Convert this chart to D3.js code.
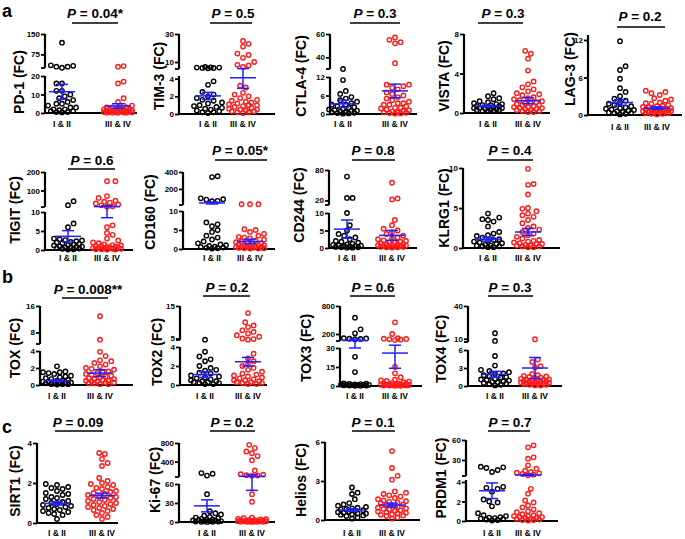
<!DOCTYPE html>
<html><head><meta charset="utf-8">
<script src="https://cdn.jsdelivr.net/npm/d3@7"></script>
<style>
body{margin:0;background:#fff}
svg{display:block}
text{font-family:"Liberation Sans",Arial,sans-serif;font-weight:bold;fill:#000}
</style>
</head><body>
<svg id="chart" width="685" height="539"></svg>
<script>
// ---------------- DATA ----------------
const categories = ["I & II", "III & IV"];
const markers = ["PD-1","TIM-3","CTLA-4","VISTA","LAG-3","TIGIT","CD160","CD244","KLRG1","TOX","TOX2","TOX3","TOX4","SIRT1","Ki-67","Helios","PRDM1"];
const pValues = ["0.04*","0.5","0.3","0.3","0.2","0.6","0.05*","0.8","0.4","0.008**","0.2","0.6","0.3","0.09","0.2","0.1","0.7"];
const panelLetters = ["a","b","c"];

const meanEarly = [11.5, 2.05, 3.3, 0.7, 2.0, 3.6, 35, 5.4, 1.1, 0.5, 1.1, 60, 1.95, 0.98, 25.5, 0.77, 3.1];
const semEarly  = [4.0, 0.4, 1.2, 0.1, 0.45, 1.5, 12, 2.6, 0.25, 0.1, 0.3, 30, 0.5, 0.08, 9.5, 0.1, 0.8];
const meanLate  = [3.8, 4.1, 7.5, 1.25, 1.1, 13, 2.0, 3.6, 2.0, 1.4, 2.45, 26, 3.0, 1.37, 85, 1.15, 7.5];
const semLate   = [1.2, 1.2, 2.2, 0.3, 0.2, 4.5, 0.6, 1.4, 0.45, 0.4, 0.45, 12, 1.75, 0.12, 35, 0.15, 1.0];

const pd1Early = [118,35,33,30,30,26,16,16,12,12,10,9,8,7,6,5,5,4,3,3,2,2,1.5,1,1,0.5,0.5,0.3];
const pd1Late  = [32,30,17,16,8,6,4,4,3,3,3,2.5,2.5,2,2,2,1.5,1.5,1.5,1,1,1,1,0.8,0.7,0.5,0.5,0.5,0.3,0.3,0.2,0.2,0.1,0.1];
const tim3Early = [6.5,6.2,6,6,5.8,5.7,5.5,3.7,3.3,2.5,2.2,2,1.8,1.6,1.5,1.3,1.2,1,0.9,0.8,0.7,0.6,0.5,0.4,0.3,0.2,0.2,0.1];
const tim3Late  = [25,23,21,16,15,13,10,8,7.5,6.5,3.2,3,2.4,2.2,2,1.8,1.6,1.5,1.4,1.3,1.2,1.1,1,1,0.9,0.8,0.7,0.6,0.5,0.5,0.4,0.3,0.3,0.2,0.2,0.1];
const ctla4Early = [30,11,7.5,6.5,5.5,5,4.5,4,3.5,3,3,2.5,2.2,2,1.8,1.5,1.3,1.1,1,0.8,0.6,0.5,0.4,0.3,0.2,0.1];
const ctla4Late  = [57,55,53,52,35,9.5,9.5,9,8.5,8,7,6.5,6,5.5,5,4.5,4,3.5,3.5,3,3,2.5,2,2,1.8,1.5,1.2,1,0.8,0.6,0.5,0.4,0.3,0.2,0.1];
const vistaEarly = [2,1.7,1.5,1.4,1.2,1.1,1,0.9,0.9,0.8,0.8,0.7,0.7,0.6,0.6,0.5,0.5,0.5,0.4,0.4,0.3,0.3,0.3,0.2,0.2,0.2];
const vistaLate  = [6.3,6,5.5,4.3,3.2,2.9,2.6,2.4,2.2,2,1.9,1.8,1.6,1.5,1.4,1.3,1.2,1.1,1,1,0.9,0.8,0.8,0.7,0.6,0.6,0.5,0.5,0.4,0.4,0.3,0.3,0.2,0.2,0.1,0.1];
const lag3Early = [11.8,7.8,7.2,5.8,4.3,3.7,3,2.6,2.3,2,1.8,1.6,1.4,1.2,1.1,1,0.9,0.8,0.7,0.6,0.5,0.4,0.3,0.3,0.2,0.1];
const lag3Late  = [3.9,3.7,3.5,3.2,2.7,2.5,2.3,2,1.9,1.8,1.6,1.5,1.4,1.3,1.2,1.1,1,1,0.9,0.9,0.8,0.8,0.7,0.7,0.6,0.6,0.5,0.5,0.4,0.4,0.3,0.3,0.2,0.2,0.1];
const tigitEarly = [42,21,7,6,3,2.8,2.6,2.5,2.3,2.1,2,1.8,1.6,1.5,1.3,1.2,1,0.9,0.8,0.7,0.6,0.5,0.4,0.3,0.2,0.1];
const tigitLate  = [150,150,70,60,45,40,35,30,25,20,15,12,6.5,6,4.5,4,3,2.5,2,1.8,1.5,1.3,1.2,1,1,0.9,0.8,0.7,0.6,0.5,0.5,0.4,0.3,0.3,0.2,0.2,0.1,0.1];
const cd160Early = [350,340,90,80,75,60,55,7,6.5,6,5,4.5,3.5,3,2.5,2,1.5,1.2,1,0.8,0.6,0.5,0.4,0.3,0.2,0.1];
const cd160Late  = [20,20,20,5.2,5,4.5,4,3.5,3.2,3,2.8,2.5,2.2,2,1.8,1.6,1.5,1.4,1.2,1.1,1,0.9,0.8,0.7,0.6,0.5,0.5,0.4,0.3,0.3,0.2,0.2,0.1,0.1];
const cd244Early = [67,25,25,10,6.5,5,4,3.5,3,2.5,2,1.8,1.5,1.2,1,0.9,0.8,0.7,0.6,0.5,0.4,0.3,0.2,0.2,0.1,0.1];
const cd244Late  = [55,24,22,8,6.5,5.5,5,4.5,4,3.5,3,2.8,2.5,2.2,2,1.8,1.6,1.5,1.3,1.2,1.1,1,0.9,0.8,0.7,0.6,0.5,0.4,0.4,0.3,0.3,0.2,0.2,0.1];
const klrg1Early = [4.3,3.8,3.6,3.5,3.3,2.7,2,1.8,1.6,1.5,1.3,1.1,1,0.9,0.8,0.7,0.6,0.5,0.4,0.3,0.3,0.2,0.2,0.1,0.1];
const klrg1Late  = [9.9,8,7.9,6.7,5,4.9,4.6,4.3,4.1,3.9,3.5,3.1,2.7,2.5,2.3,2,1.8,1.6,1.4,1.2,1,0.9,0.8,0.7,0.6,0.5,0.5,0.4,0.3,0.3,0.2,0.2,0.1,0.1];
const toxEarly = [2.2,1.6,1.5,1.5,1.4,1.3,1.1,1,0.9,0.8,0.7,0.6,0.5,0.5,0.4,0.4,0.3,0.3,0.2,0.2,0.2,0.1,0.1,0.1,0.05];
const toxLate  = [12.9,5.8,3.9,3.4,2.9,2.8,2.6,2.4,2.2,2,1.9,1.8,1.6,1.5,1.4,1.3,1.2,1.1,1,0.9,0.8,0.7,0.7,0.6,0.5,0.5,0.4,0.4,0.3,0.3,0.2,0.2,0.1,0.1];
const tox2Early = [4.6,3.5,3,2.7,2.5,2,1.8,1.6,1.5,1.3,1.2,1,0.9,0.8,0.7,0.6,0.5,0.4,0.4,0.3,0.3,0.2,0.2,0.1,0.1];
const tox2Late  = [12.8,10,9,8.5,7.5,7,6.5,6,5.5,5,4.8,4.6,3.3,2.8,2.5,2.2,2,1.8,1.6,1.4,1.2,1.1,1,0.9,0.8,0.7,0.6,0.5,0.5,0.4,0.3,0.3,0.2,0.2,0.1,0.1];
const tox3Early = [550,300,215,110,105,100,95,90,23,11,2,1.8,1.6,1.5,1.3,1.2,1,0.9,0.8,0.7,0.6,0.5,0.4,0.3,0.2,0.1];
const tox3Late  = [450,200,110,100,95,85,80,70,15,10,7,5,4.5,4,3.5,3,2.5,2,2,1.8,1.5,1.3,1.2,1,0.9,0.8,0.7,0.6,0.5,0.4,0.3,0.3,0.2,0.1];
const tox4Early = [15,8,5,3.4,2.7,2.5,2.3,2.1,2,1.8,1.6,1.5,1.4,1.2,1.1,1,0.9,0.8,0.7,0.6,0.5,0.4,0.3,0.2,0.1];
const tox4Late  = [9.5,4.4,4,3.3,3.1,2,1.8,1.7,1.6,1.5,1.4,1.3,1.2,1.1,1,1,0.9,0.9,0.8,0.8,0.7,0.7,0.6,0.6,0.5,0.5,0.4,0.4,0.3,0.3,0.2,0.2,0.1,0.1];
const sirt1Early = [1.95,1.9,1.8,1.75,1.7,1.6,1.5,1.45,1.4,1.3,1.25,1.2,1.1,1.05,1,0.95,0.9,0.85,0.8,0.75,0.7,0.65,0.6,0.55,0.5,0.45,0.4,0.2];
const sirt1Late  = [3.5,3.45,3.2,3,2.85,2.25,2.1,2,1.95,1.9,1.8,1.75,1.7,1.6,1.55,1.5,1.45,1.4,1.35,1.3,1.25,1.2,1.15,1.1,1.05,1,0.95,0.9,0.85,0.8,0.75,0.7,0.65,0.6,0.5,0.4,0.3,0.2];
const ki67Early = [155,140,100,44,17,14,12,10,8,7,6,5,4,3.5,3,2.5,2,1.5,1.2,1,0.8,0.6,0.4,0.2,0.1];
const ki67Late  = [760,690,620,580,520,430,210,130,120,110,100,95,44,32,7,6,5,4.5,4,3.5,3,2.8,2.5,2.2,2,1.8,1.5,1.3,1.1,1,0.8,0.6,0.5,0.4,0.3,0.2,0.1];
const heliosEarly = [2.5,2.1,2,1.6,1.3,1.2,1.1,1,0.95,0.9,0.85,0.8,0.75,0.7,0.65,0.6,0.55,0.5,0.5,0.45,0.4,0.35,0.3,0.2,0.1];
const heliosLate  = [5.3,4,3.4,3.1,2.2,2.1,2,1.9,1.8,1.7,1.6,1.5,1.45,1.4,1.35,1.3,1.2,1.15,1.1,1,0.95,0.9,0.85,0.8,0.75,0.7,0.65,0.6,0.55,0.5,0.45,0.4,0.35,0.3,0.2,0.1];
const prdm1Early = [20,19,18,15,12,3.5,3.4,3.3,3,2.2,2,1.9,1.5,0.8,0.6,0.5,0.4,0.35,0.3,0.25,0.2,0.15,0.1,0.05];
const prdm1Late  = [52,49,34,32,22,17,14,12,11,10,9,8,7,3.3,2.8,2.1,1.9,1.6,1.4,1.2,1,0.9,0.8,0.7,0.6,0.5,0.5,0.4,0.4,0.3,0.3,0.2,0.2,0.15,0.1,0.1,0.05];

const valuesEarly = [pd1Early,tim3Early,ctla4Early,vistaEarly,lag3Early,tigitEarly,cd160Early,cd244Early,klrg1Early,toxEarly,tox2Early,tox3Early,tox4Early,sirt1Early,ki67Early,heliosEarly,prdm1Early];
const valuesLate  = [pd1Late,tim3Late,ctla4Late,vistaLate,lag3Late,tigitLate,cd160Late,cd244Late,klrg1Late,toxLate,tox2Late,tox3Late,tox4Late,sirt1Late,ki67Late,heliosLate,prdm1Late];

const ticksPD1=[0,10,20,75,150], ticksTIM3=[0,2,4,10,30], ticksCTLA4=[0,6,12,40,60], ticksVISTA=[0,4,8], ticksLAG3=[0,6,12];
const ticksTIGIT=[0,5,10,100,200], ticksCD160=[0,5,10,200,400], ticksCD244=[0,5,10,20,80], ticksKLRG1=[0,5,10];
const ticksTOX=[0,2,4,8,16], ticksTOX2=[0,2,4,5,15], ticksTOX3=[0,15,30,200,800], ticksTOX4=[0,3,6,10,40];
const ticksSIRT1=[0,2,4], ticksKI67=[0,30,60,400,800], ticksHELIOS=[0,3,6], ticksPRDM1=[0,2,4,30,60];
const tickSets=[ticksPD1,ticksTIM3,ticksCTLA4,ticksVISTA,ticksLAG3,ticksTIGIT,ticksCD160,ticksCD244,ticksKLRG1,ticksTOX,ticksTOX2,ticksTOX3,ticksTOX4,ticksSIRT1,ticksKI67,ticksHELIOS,ticksPRDM1];

// ---------------- LAYOUT (positions / axis breaks) ----------------
const layout = [
 {ax:45, xe:137, g:[62,118], segs:[[[0,20],[113,76]],[[25,150],[68,34]]], ylx:19, yly:82, tx:95, ty:18, lx:[72,118], ly:23, xly:127},
 {ax:179, xe:275, g:[208,243], segs:[[[0,4.3],[114,76]],[[5,30],[69,34]]], ylx:159, yly:76, tx:233, ty:18, lx:[210,252], ly:23, xly:127},
 {ax:330, xe:417, g:[343,395], segs:[[[0,12],[114,77]],[[30,60],[69,34]]], ylx:301, yly:76, tx:375, ty:18, lx:[350,400], ly:23, xly:127},
 {ax:464, xe:550, g:[488,528], segs:[[[0,8],[113,34]]], ylx:444, yly:76, tx:503, ty:18, lx:[478,523], ly:23, xly:127},
 {ax:588, xe:682, g:[620,657], segs:[[[0,12.8],[115,35]]], ylx:570, yly:69, tx:640, ty:21, lx:[617,665], ly:27, xly:130},
 {ax:45, xe:133, g:[68,107], segs:[[[0,10],[250,212]],[[11,200],[207,172]]], ylx:15, yly:210, tx:92, ty:165, lx:[68,115], ly:169, xly:261},
 {ax:183, xe:275, g:[212,250], segs:[[[0,10],[249,211]],[[11,400],[205,172]]], ylx:150, yly:212, tx:240, ty:155, lx:[215,267], ly:160, xly:261},
 {ax:329, xe:417, g:[347,392], segs:[[[0,10],[248,213]],[[11,80],[205,170]]], ylx:299, yly:205, tx:373, ty:155, lx:[352,395], ly:160, xly:261},
 {ax:463, xe:560, g:[488,528], segs:[[[0,10],[248,168]]], ylx:444, yly:208, tx:510, ty:155, lx:[487,533], ly:160, xly:261},
 {ax:40, xe:133, g:[57,100], segs:[[[0,4],[385,351]],[[4.5,16],[344,306]]], ylx:15, yly:348, tx:88, ty:294, lx:[62,108], ly:298, xly:399},
 {ax:180, xe:267, g:[205,248], segs:[[[0,4],[385,347]],[[4.5,15],[340,306]]], ylx:157, yly:352, tx:227, ty:292, lx:[203,250], ly:296, xly:399},
 {ax:340, xe:422, g:[355,395], segs:[[[0,30],[386,348]],[[50,800],[341,306]]], ylx:306, yly:348, tx:373, ty:292, lx:[350,395], ly:296, xly:399},
 {ax:468, xe:562, g:[495,535], segs:[[[0,6],[386,350]],[[7,40],[342,306]]], ylx:441, yly:349, tx:510, ty:292, lx:[488,533], ly:296, xly:399},
 {ax:37, xe:118, g:[57,102], segs:[[[0,4],[523,443]]], ylx:15, yly:481, tx:78, ty:427, lx:[55,103], ly:431, xly:536},
 {ax:179, xe:275, g:[207,252], segs:[[[0,60],[522,484]],[[70,800],[477,443]]], ylx:155, yly:480, tx:232, ty:427, lx:[210,255], ly:431, xly:536},
 {ax:325, xe:420, g:[352,392], segs:[[[0,6],[520,442]]], ylx:301, yly:480, tx:373, ty:427, lx:[352,395], ly:431, xly:536},
 {ax:466, xe:558, g:[492,528], segs:[[[0,4.2],[521,480]],[[6,60],[476,440]]], ylx:441, yly:478, tx:510, ty:427, lx:[488,530], ly:431, xly:536}
];
const letterPos = [[2,17],[2,283],[2,433]];

// ---------------- DRAW ----------------
const svg = d3.select("#chart");
const BLUE = "#1f1fff";
const groupColors = ["#000000", "#ff1a1a"];

panelLetters.forEach((l,i)=>{
  svg.append("text").attr("x",letterPos[i][0]).attr("y",letterPos[i][1])
    .style("font-size","18px").text(l);
});

function swarm(vals, yf, cx, r, maxHalf){
  const dmin = 2*r + 1.2;
  const pts = vals.map(v=>({v, y:yf(v)})).sort((a,b)=>b.y-a.y);
  const placed = [];
  const step = dmin*0.5;
  pts.forEach(p=>{
    let bestOff=0, bestScore=-1;
    for(let k=0;k<200;k++){
      const off = (k%2===1?1:-1)*Math.ceil(k/2)*step;
      if(Math.abs(off)>maxHalf) break;
      let md = Infinity;
      for(const q of placed){ const dd=Math.hypot(q.x-(cx+off), q.y-p.y); if(dd<md) md=dd; }
      if(md>=dmin){ bestOff=off; break; }
      if(md>bestScore){ bestScore=md; bestOff=off; }
    }
    p.x = cx + bestOff;
    placed.push(p);
  });
  return placed;
}

layout.forEach((L,i)=>{
  const g = svg.append("g");
  const segs = L.segs.map(s=>({d:s[0], r:s[1], sc:d3.scaleLinear().domain(s[0]).range(s[1])}));
  const yf = v=>{
    for(let k=0;k<segs.length;k++){
      const s = segs[k];
      if(v<s.d[0] && k>0){
        const p=segs[k-1];
        const t=(v-p.d[1])/(s.d[0]-p.d[1]);
        return p.r[1]+t*(s.r[0]-p.r[1]);
      }
      if(v<=s.d[1] || k===segs.length-1) return s.sc(v);
    }
  };
  const x = d3.scalePoint().domain(categories).range(L.g);
  const ticks = tickSets[i];

  segs.forEach((s,k)=>{
    const ax = d3.axisLeft(s.sc)
      .tickValues(ticks.filter(t=>t>=s.d[0]-1e-9 && t<=s.d[1]+1e-9))
      .tickSize(4).tickPadding(1).tickFormat(d3.format("d"));
    const ag = g.append("g").attr("transform",`translate(${L.ax},0)`).call(ax);
    ag.select(".domain").remove();
    ag.selectAll(".tick line").attr("stroke","#000").attr("stroke-width",1.8);
    ag.selectAll(".tick text").style("font-size","8px").style("font-family","'Liberation Sans',Arial,sans-serif").style("font-weight","bold").attr("fill","#000");
    g.append("line").attr("x1",L.ax).attr("x2",L.ax)
      .attr("y1", k===0 ? s.r[0]+1 : s.r[0]).attr("y2", s.r[1])
      .attr("stroke","#000").attr("stroke-width",2.2);
    if(k>0){
      g.append("line").attr("x1",L.ax-4).attr("x2",L.ax).attr("y1",s.r[0]).attr("y2",s.r[0])
        .attr("stroke","#000").attr("stroke-width",1.8);
    }
  });
  const yb = segs[0].r[0];
  g.append("line").attr("x1",L.ax-1).attr("x2",L.xe).attr("y1",yb).attr("y2",yb)
    .attr("stroke","#000").attr("stroke-width",2.2);

  [valuesEarly[i], valuesLate[i]].forEach((vals,gi)=>{
    const pts = swarm(vals, yf, x(categories[gi]), 2.2, 15);
    g.selectAll(null).data(pts).enter().append("circle")
      .attr("cx",d=>d.x).attr("cy",d=>d.y).attr("r",2.2)
      .attr("fill","none")
      .attr("stroke",groupColors[gi]).attr("stroke-width",1.4);
  });

  [[meanEarly[i],semEarly[i]],[meanLate[i],semLate[i]]].forEach(([m,s],gi)=>{
    const cx = x(categories[gi]);
    const eg = g.append("g").attr("stroke",BLUE).attr("stroke-width",1.5);
    eg.append("line").attr("x1",cx).attr("x2",cx).attr("y1",yf(m-s)).attr("y2",yf(m+s));
    eg.append("line").attr("x1",cx-13).attr("x2",cx+13).attr("y1",yf(m)).attr("y2",yf(m));
    [m-s,m+s].forEach(v=>eg.append("line").attr("x1",cx-6).attr("x2",cx+6).attr("y1",yf(v)).attr("y2",yf(v)));
  });

  categories.forEach(c=>{
    g.append("text").attr("x",x(c)).attr("y",L.xly).attr("text-anchor","middle")
      .style("font-size","8.5px").text(c);
  });
  g.append("text").attr("transform",`translate(${L.ylx},${L.yly}) rotate(-90)`)
    .attr("text-anchor","middle").attr("dy","0.35em").style("font-size","14px").text(markers[i]+" (FC)");
  const t = g.append("text").attr("x",L.tx).attr("y",L.ty).attr("text-anchor","middle").style("font-size","13.5px");
  t.append("tspan").style("font-style","italic").text("P");
  t.append("tspan").text(" = " + pValues[i]);
  g.append("line").attr("x1",L.lx[0]).attr("x2",L.lx[1]).attr("y1",L.ly).attr("y2",L.ly)
    .attr("stroke","#000").attr("stroke-width",1.3);
});
</script>
</body></html>
